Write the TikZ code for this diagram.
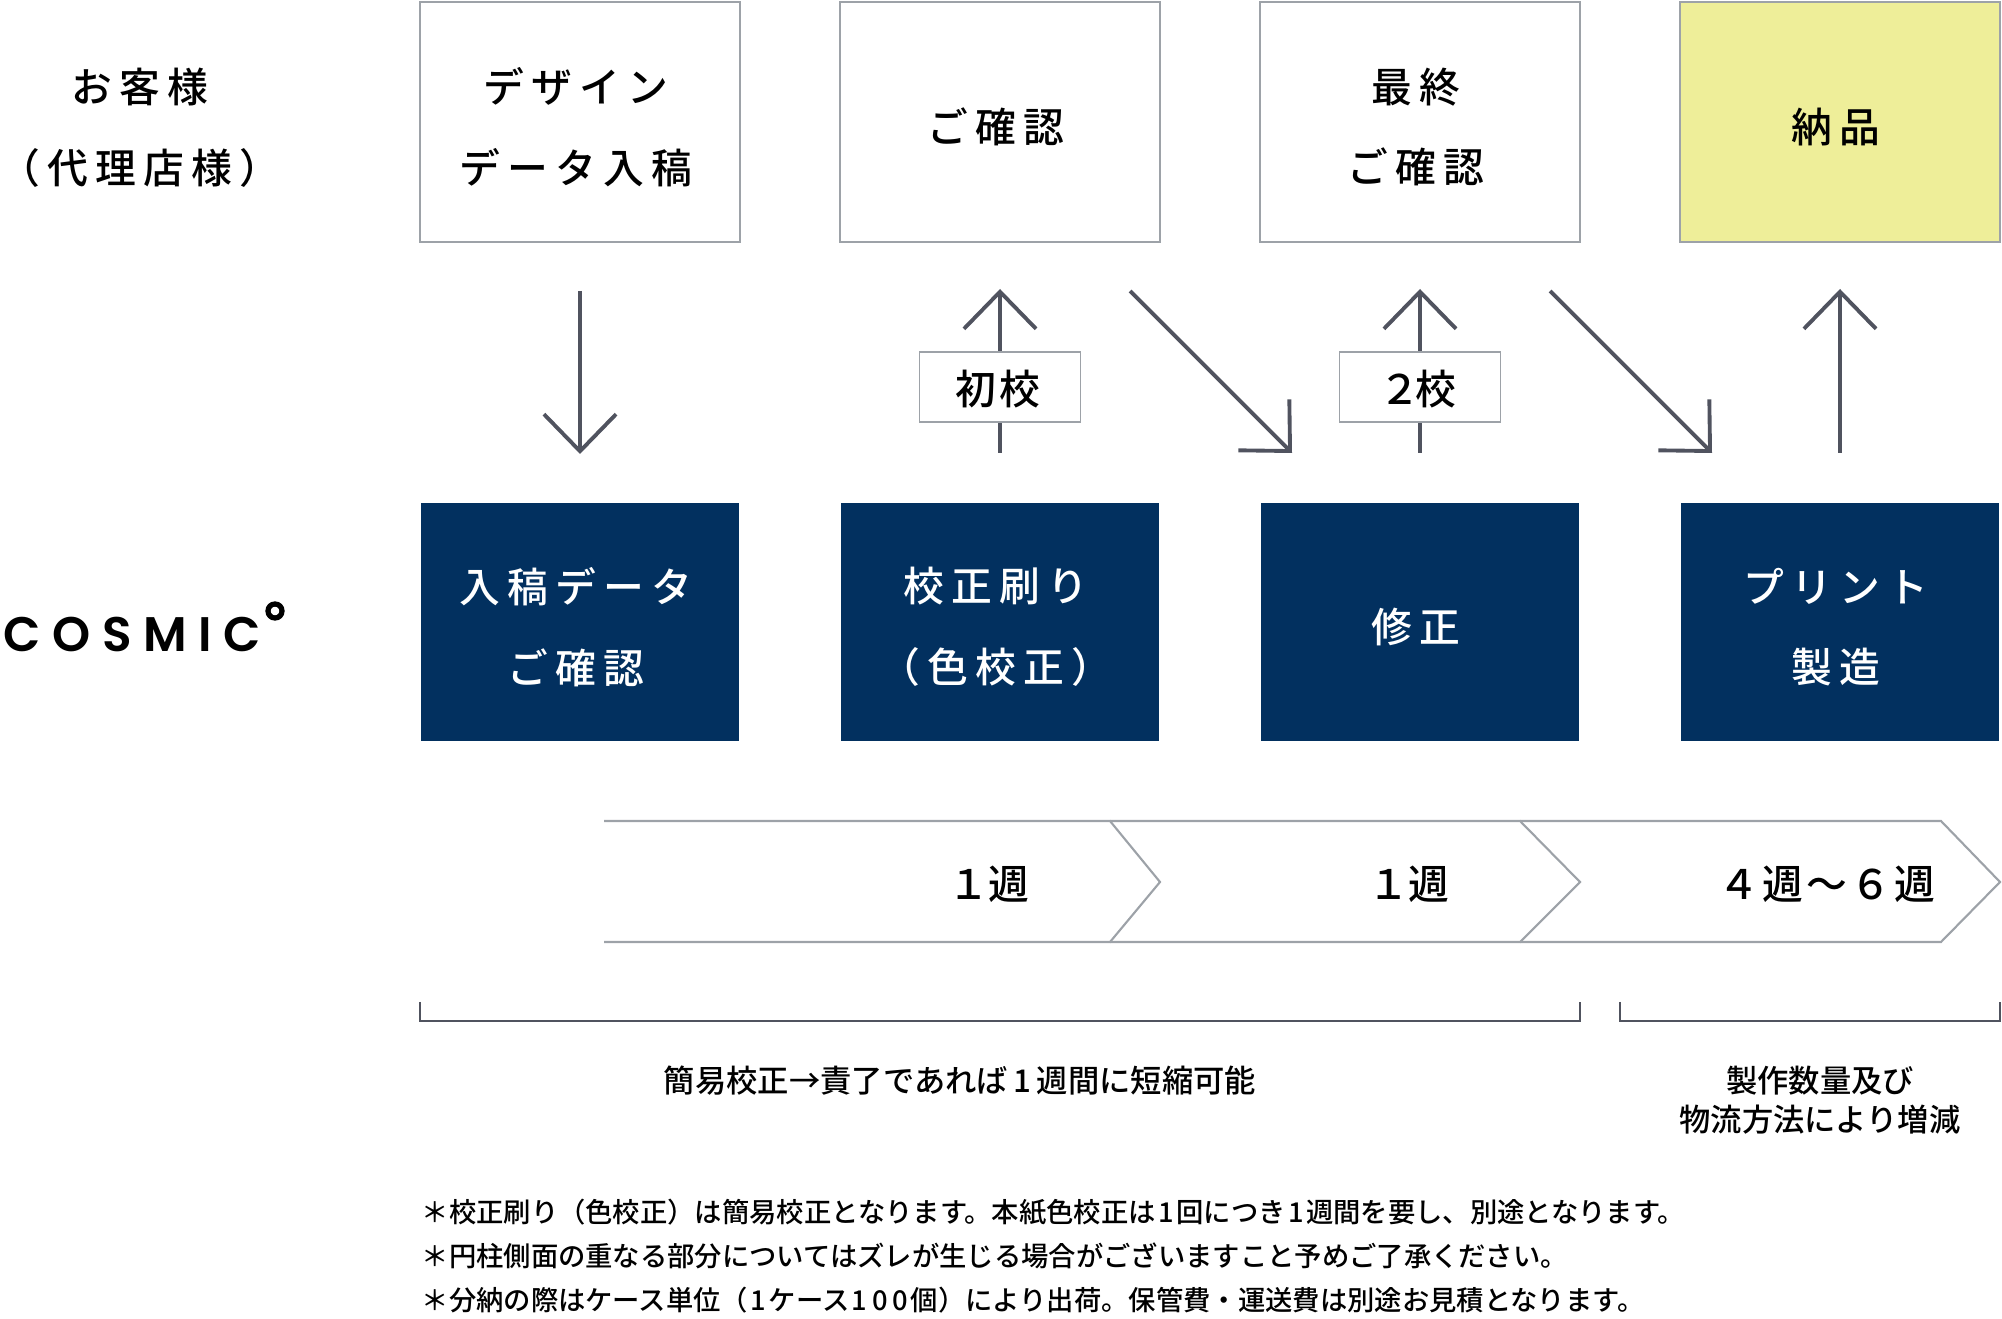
\documentclass[tikz,border=0pt]{standalone}
\usepackage{fontspec}
\usetikzlibrary{arrows.meta}
\newfontfamily\jpfont{Noto Sans CJK JP Medium}
\newfontfamily\jpwide[LetterSpace=18]{Noto Sans CJK JP Medium}
\newfontfamily\jpweek[LetterSpace=8]{Noto Sans CJK JP Medium}
\newfontfamily\logofont[LetterSpace=24]{Poppins SemiBold}
\newcommand{\dig}[1]{\kern0.7pt#1\kern0.7pt}
\definecolor{navy}{HTML}{02305F}
\definecolor{paleyellow}{HTML}{EEEE99}
\definecolor{boxgray}{HTML}{9DA2A8}
\definecolor{arrowgray}{HTML}{50535F}
\tikzset{
  bigtext/.style={font=\jpwide\fontsize{11.6}{22.9}\selectfont, align=center},
  boxtext/.style={bigtext, xshift=-0.04cm, yshift=-0.05cm},
  weektext/.style={font=\jpweek\fontsize{11.6}{14}\selectfont, yshift=-0.02cm},
  clientbox/.style={draw=boxgray, line width=0.5pt, fill=white, minimum width=3.2cm, minimum height=2.4cm, inner sep=0pt},
  cosmicbox/.style={fill=navy, minimum width=3.18cm, minimum height=2.38cm, inner sep=0pt},
  labelbox/.style={draw=boxgray, line width=0.5pt, fill=white, minimum width=1.61cm, minimum height=0.7cm, inner sep=0pt},
  flowarrow/.style={draw=arrowgray, line width=1.1pt, -{Straight Barb[length=0.37cm,width=0.72cm]}},
  chevron/.style={draw=boxgray, line width=0.6pt},
  smalltext/.style={font=\jpfont\fontsize{8.9}{11}\selectfont, align=center},
  notetext/.style={font=\jpfont\fontsize{7.77}{10}\selectfont, anchor=west, inner sep=0pt},
}
\begin{document}
\begin{tikzpicture}[x=0.01cm, y=-0.01cm]
  \useasboundingbox (0, 0) rectangle (2002, 1319);
  % rows
  \node [bigtext, yshift=-0.01cm] (client) at (140, 127) {お客様\\（代理店様）};
  \node [font=\logofont\fontsize{13.8}{14}\selectfont, anchor=west, inner sep=0pt] (cosmic) at (3, 634) {COSMIC};
  \draw [line width=1.5pt] (275, 611) circle (7);
  % boxes
  \node [clientbox] (C1) at (580, 122) {};
  \node [clientbox] (C2) at (1000, 122) {};
  \node [clientbox] (C3) at (1420, 122) {};
  \node [clientbox, fill=paleyellow] (C4) at (1840, 122) {};
  \node [cosmicbox] (K1) at (580, 622) {};
  \node [cosmicbox] (K2) at (1000, 622) {};
  \node [cosmicbox] (K3) at (1420, 622) {};
  \node [cosmicbox] (K4) at (1840, 622) {};
  \node [boxtext] (C1t) at (C1) {デザイン\\データ入稿};
  \node [boxtext] (C2t) at (C2) {ご確認};
  \node [boxtext] (C3t) at (C3) {最終\\ご確認};
  \node [boxtext] (C4t) at (C4) {納品};
  \node [boxtext, text=white] (K1t) at (K1) {入稿データ\\ご確認};
  \node [boxtext, text=white] (K2t) at (K2) {校正刷り\\（色校正）};
  \node [boxtext, text=white] (K3t) at (K3) {修正};
  \node [boxtext, text=white] (K4t) at (K4) {プリント\\製造};
  % arrows
  \coordinate (A1) at (580, 291);
  \coordinate (B1) at (580, 454);
  \coordinate (A2) at (1000, 453);
  \coordinate (B2) at (1000, 289);
  \coordinate (A3) at (1130, 291);
  \coordinate (B3) at (1292, 453);
  \coordinate (A4) at (1420, 453);
  \coordinate (B4) at (1420, 289);
  \coordinate (A5) at (1550, 291);
  \coordinate (B5) at (1712, 453);
  \coordinate (A6) at (1840, 453);
  \coordinate (B6) at (1840, 289);
  \draw [flowarrow] (A1) to (B1);
  \draw [flowarrow] (A2) to (B2);
  \draw [flowarrow] (A3) to (B3);
  \draw [flowarrow] (A4) to (B4);
  \draw [flowarrow] (A5) to (B5);
  \draw [flowarrow] (A6) to (B6);
  \node [labelbox] (L1) at (1000, 387) {};
  \node [labelbox] (L2) at (1420, 387) {};
  \node [weektext, xshift=-0.02cm] (L1t) at (L1) {初校};
  \node [weektext, xshift=-0.02cm] (L2t) at (L2) {２\kern-1.2pt 校};
  % schedule
  \draw [chevron] (604, 821) -- (1110, 821) -- (1160, 882) -- (1110, 942) -- (604, 942);
  \draw [chevron] (1110, 821) -- (1520, 821) -- (1580, 882) -- (1520, 942) -- (1110, 942);
  \draw [chevron] (1520, 821) -- (1941, 821) -- (2000, 882) -- (1941, 942) -- (1520, 942);
  \node [weektext] (W1) at (989, 882) {１\kern-0.4pt 週};
  \node [weektext] (W2) at (1409, 882) {１\kern-0.4pt 週};
  \node [weektext] (W3) at (1827, 882) {４週～６週};
  % brackets
  \draw [arrowgray, line width=0.6pt] (420, 1002) -- (420, 1021) -- (1580, 1021) -- (1580, 1002);
  \draw [arrowgray, line width=0.6pt] (1620, 1002) -- (1620, 1021) -- (2000, 1021) -- (2000, 1002);
  \node [smalltext] (T1) at (960, 1081) {簡易校正→責了であれば\kern1.6pt 1\kern1.6pt 週間に短縮可能};
  \node [smalltext] (T2) at (1820, 1081) {製作数量及び};
  \node [smalltext] (T3) at (1820, 1120) {物流方法により増減};
  % notes
  \node [notetext] (N1) at (421, 1212) {＊校正刷り（色校正）は簡易校正となります。本紙色校正は\dig{1}回につき\dig{1}週間を要し、別途となります。};
  \node [notetext] (N2) at (421, 1256) {＊円柱側面の重なる部分についてはズレが生じる場合がございますこと予めご了承ください。};
  \node [notetext] (N3) at (421, 1300) {＊分納の際はケース単位（\dig{1}ケース\dig{1}\dig{0}\dig{0}個）により出荷。保管費・運送費は別途お見積となります。};
\end{tikzpicture}
\end{document}
